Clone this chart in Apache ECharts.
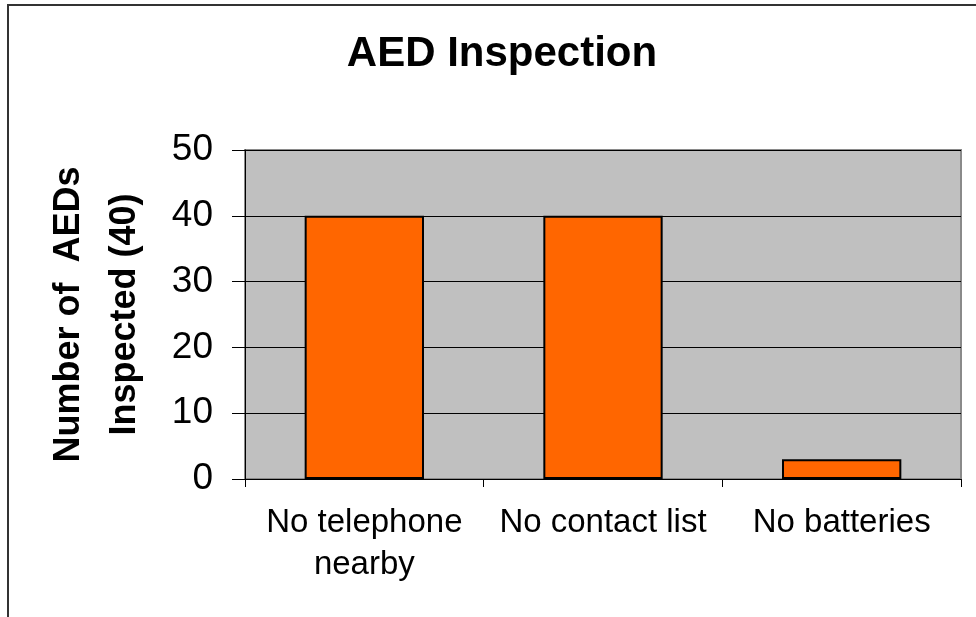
<!DOCTYPE html>
<html>
<head>
<meta charset="utf-8">
<script src="https://cdn.jsdelivr.net/npm/echarts@6/dist/echarts.min.js"></script>
<style>
  html, body { margin: 0; padding: 0; background: #fff; }
  #chart { width: 976px; height: 617px; }
</style>
</head>
<body>
<div id="chart"></div>
<script>
const categories = ["No telephone\nnearby", "No contact list", "No batteries"];
const inspected = [40, 40, 3];
const yTicks = [0, 10, 20, 30, 40, 50];

const chart = echarts.init(document.getElementById("chart"));
const font = "Liberation Sans, Arial, sans-serif";

chart.setOption({
  backgroundColor: "#fff",
  animation: false,
  title: {
    text: "AED Inspection",
    left: 497,
    top: 28,
    textAlign: "center",
    textStyle: { fontFamily: font, fontSize: 42, fontWeight: "bold", color: "#000" }
  },
  graphic: [
    {
      type: "polyline",
      shape: { points: [[8, 617], [8, 5], [976, 5]] },
      style: { stroke: "#333", lineWidth: 2, fill: null }
    }
  ],
  grid: {
    left: 245,
    right: 15,
    top: 150,
    bottom: 138,
    show: true,
    backgroundColor: "#C0C0C0",
    borderColor: "#8a8a8a",
    borderWidth: 2
  },
  xAxis: {
    type: "category",
    data: categories,
    axisLine: { lineStyle: { color: "#000", width: 1 } },
    axisTick: { show: true, length: 8, lineStyle: { color: "#000" } },
    axisLabel: {
      fontFamily: font, fontSize: 33, color: "#000",
      margin: 23, lineHeight: 42, interval: 0
    }
  },
  yAxis: {
    type: "value",
    min: 0,
    max: 50,
    interval: 10,
    name: "Number of  AEDs\nInspected (40)",
    nameLocation: "middle",
    nameGap: 92,
    nameTextStyle: {
      fontFamily: font, fontSize: 36, fontWeight: "bold", color: "#000",
      lineHeight: 56, align: "center"
    },
    axisLine: { show: true, lineStyle: { color: "#000", width: 1 } },
    axisTick: { show: true, length: 13, lineStyle: { color: "#000" } },
    axisLabel: {
      fontFamily: font, fontSize: 37, color: "#000", margin: 32,
      formatter: v => (yTicks.includes(v) ? String(v) : "")
    },
    splitLine: { show: true, lineStyle: { color: "#000", width: 1 } }
  },
  series: [
    {
      type: "bar",
      data: inspected,
      barCategoryGap: "50%",
      itemStyle: { color: "#FF6600", borderColor: "#000", borderWidth: 2 }
    }
  ]
});
</script>
</body>
</html>
